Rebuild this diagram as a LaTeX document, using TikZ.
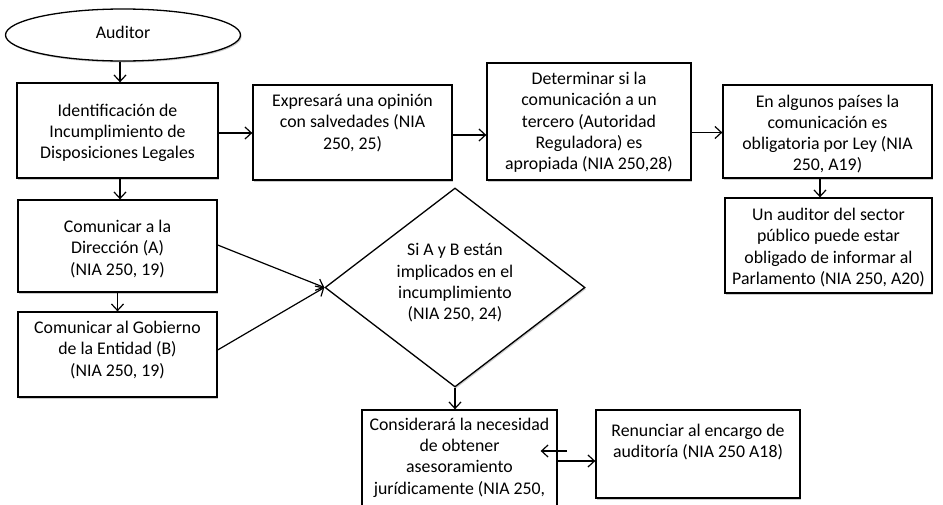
\documentclass[tikz,border=0pt]{standalone}
\usepackage{fontspec}
\setmainfont{Carlito}
\usetikzlibrary{arrows.meta,shapes.geometric,shadows}
\begin{document}
\begin{tikzpicture}[x=1pt,y=-1pt,
  font=\fontsize{17.8}{21.3}\selectfont,
  shad/.style={drop shadow={shadow xshift=1.2pt,shadow yshift=-1.5pt,fill=black!40}},
  box/.style={draw,line width=1.3pt,fill=white,shad,inner sep=0pt,align=center},
  txt/.style={align=center,inner sep=0pt},
  arr/.style={-{Straight Barb[length=6.5pt,width=12pt]},line width=1.2pt}]
\useasboundingbox (0,0) rectangle (943,504);
% nodes
\node[box,ellipse,minimum width=235pt,minimum height=52pt] (aud) at (123,35) {};
\node[txt] (audt) at (123,32) {Auditor};
\node[box,minimum width=201pt,minimum height=95pt] (b1) at (117.5,130.5) {};
\node[txt] (b1t) at (117.5,133)
  {\fontsize{17.8}{26.7}\selectfont Identificación de\\Incumplimiento de\\Disposiciones Legales};
\node[box,minimum width=199pt,minimum height=95pt] (b2) at (352.5,132.5) {};
\node[txt] (b2t) at (352.5,123) {Expresará una opinión\\con salvedades (NIA\\250, 25)};
\node[box,minimum width=204pt,minimum height=117pt] (b3) at (589,121.5) {};
\node[txt] (b3t) at (589,122.5)
  {Determinar si la\\comunicación a un\\tercero (Autoridad\\Reguladora) es\\apropiada (NIA 250,28)};
\node[box,minimum width=209pt,minimum height=93pt] (b4) at (827.5,131.5) {};
\node[txt] (b4t) at (827.5,134) {En algunos países la\\comunicación es\\obligatoria por Ley (NIA\\250, A19)};
\node[box,minimum width=207pt,minimum height=95pt] (b5) at (828.5,245.5) {};
\node[txt] (b5t) at (828.5,247.5) {Un auditor del sector\\público puede estar\\obligado de informar al\\Parlamento (NIA 250, A20)};
\node[box,minimum width=199pt,minimum height=92pt] (b6) at (117.5,246) {};
\node[txt] (b6t) at (117.5,249) {Comunicar a la\\Dirección (A)\\(NIA 250, 19)};
\node[box,minimum width=199pt,minimum height=85pt] (b7) at (117.5,354.5) {};
\node[txt] (b7t) at (117.5,350) {Comunicar al Gobierno\\de la Entidad (B)\\(NIA 250, 19)};
\node[box,diamond,minimum width=260pt,minimum height=199pt] (dia) at (455,287.5) {};
\node[txt] (diat) at (455,283) {Si A y B están\\implicados en el\\incumplimiento\\(NIA 250, 24)};
\node[box,minimum width=195pt,minimum height=130pt] (b8) at (459.5,475) {};
\node[txt] (b8t) at (459.5,457.5) {Considerará la necesidad\\de obtener\\asesoramiento\\jurídicamente (NIA 250,};
\node[box,minimum width=204pt,minimum height=88pt] (b9) at (698,454) {};
\node[txt] (b9t) at (698,442) {Renunciar al encargo de\\auditoría (NIA 250 A18)};
% connectors
\draw[arr] ([xshift=-3pt]aud.south) -- ([xshift=-3pt]aud.south |- b1.north);
\draw[arr] ([xshift=2.5pt]b1.south) -- ([xshift=2.5pt]b1.south |- b6.north);
\draw[arr] (b6.south) -- (b7.north);
\draw[arr] ([yshift=-2.5pt]b1.east) -- ([yshift=-2.5pt]b1.east -| b2.west);
\draw[arr] ([yshift=-2.5pt]b2.east) -- ([yshift=-2.5pt]b2.east -| b3.west);
\draw[arr] ([yshift=-1pt]b4.west -| b3.east) -- ([yshift=-1pt]b4.west);
\draw[arr] ([xshift=-7.5pt]b4.south) -- ([xshift=-7.5pt]b4.south |- b5.north);
\draw[arr] ([yshift=1pt]b6.east) -- (dia.west);
\draw[arr] ([yshift=4.5pt]b7.east) -- (dia.west);
\draw[arr] (dia.south) -- (dia.south |- b8.north);
\coordinate (l1) at (567,451);
\coordinate (r1) at (558,461);
\draw[arr] (l1) -- ([xshift=-17pt]l1 -| b8.east);
\draw[arr] (r1) -- (r1 -| b9.west);
\end{tikzpicture}
\end{document}
